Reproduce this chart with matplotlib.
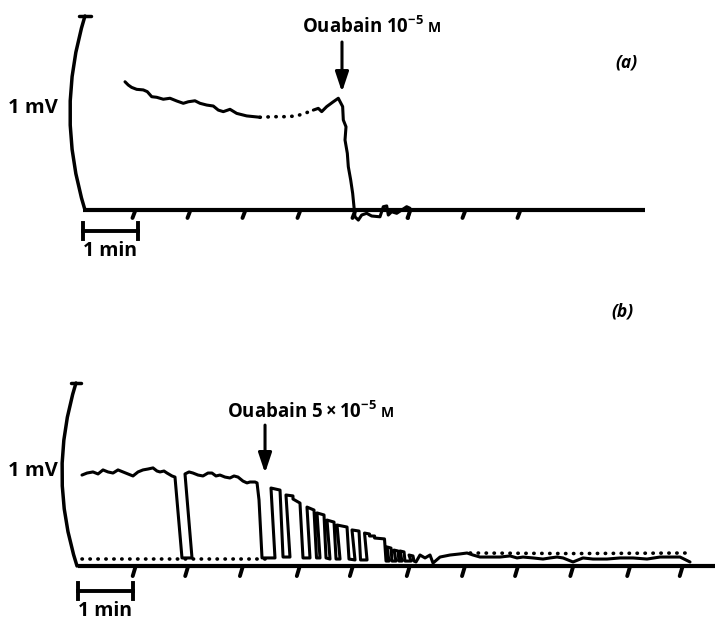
import matplotlib
matplotlib.use("Agg")
import matplotlib.pyplot as plt
from matplotlib.path import Path
from matplotlib.patches import PathPatch

plt.rcParams["font.family"] = ["Open Sans", "DejaVu Sans"]
plt.rcParams["font.weight"] = "bold"
plt.rcParams["mathtext.fontset"] = "custom"
plt.rcParams["mathtext.rm"] = "Open Sans:bold"
plt.rcParams["mathtext.it"] = "Open Sans:bold:italic"
plt.rcParams["mathtext.bf"] = "Open Sans:bold"

# ---------------- data: panel (a) (time in min, potential in mV) ----------------
a_solid1_t = [0.764, 0.824, 0.885, 0.976, 1.096, 1.169, 1.249, 1.340, 1.460, 1.582,
              1.704, 1.824, 1.915, 2.036, 2.127, 2.249, 2.369, 2.460, 2.551, 2.673,
              2.795, 2.976, 3.218]
a_solid1_v = [0.661, 0.644, 0.632, 0.622, 0.619, 0.610, 0.584, 0.581, 0.571, 0.576,
              0.562, 0.550, 0.558, 0.563, 0.550, 0.541, 0.536, 0.515, 0.507, 0.519,
              0.498, 0.485, 0.478]
a_dotted_t = [3.218, 3.460, 3.704, 3.885, 4.067, 4.188]
a_dotted_v = [0.478, 0.481, 0.481, 0.485, 0.502, 0.515]
a_solid2_t = [4.188, 4.278, 4.340, 4.431, 4.551, 4.642, 4.721, 4.733, 4.782, 4.764,
              4.806, 4.824, 4.867, 4.903, 4.927, 4.945, 5.006, 5.067, 5.158, 5.249,
              5.400, 5.460, 5.522, 5.551, 5.612, 5.704, 5.795, 5.885, 5.945, 5.915]
a_solid2_v = [0.515, 0.524, 0.507, 0.533, 0.558, 0.576, 0.533, 0.464, 0.429, 0.361,
              0.292, 0.223, 0.155, 0.086, 0.017, -0.035, -0.052, -0.026, -0.017, -0.031,
              -0.035, 0.017, 0.021, -0.026, -0.009, -0.017, 0.000, 0.017, 0.009, -0.043]
a_baseline_t = [0.0, 10.22]
a_ticks_t = [0.9, 1.9, 2.9, 3.9, 4.9, 5.9, 6.9, 7.9]
a_arrow_t = 4.709
a_arrow_v = [0.866, 0.608]

# ---------------- data: panel (b) ----------------
b_trace_t = [0.073, 0.165, 0.274, 0.366, 0.457, 0.548, 0.640, 0.731, 0.823, 0.914,
             1.005, 1.097, 1.188, 1.280, 1.371, 1.444, 1.499, 1.572, 1.627, 1.718,
             1.773, 1.901, 2.084, 1.956,
             2.029, 2.102, 2.194, 2.285, 2.376, 2.449, 2.522, 2.596, 2.687, 2.778,
             2.852, 2.925, 3.016, 3.089, 3.144, 3.236, 3.273, 3.309, 3.364, 3.601,
             3.528, 3.693, 3.748, 3.875,
             3.802, 3.930, 3.930, 4.058, 4.113, 4.241,
             4.186, 4.314, 4.360, 4.424,
             4.369, 4.497, 4.534, 4.607,
             4.552, 4.680, 4.717, 4.790,
             4.735, 4.918, 4.954, 5.064,
             5.009, 5.137, 5.165, 5.284,
             5.238, 5.329, 5.329, 5.421, 5.421, 5.603, 5.631, 5.685,
             5.649, 5.722, 5.740, 5.813,
             5.777, 5.850, 5.868, 5.923,
             5.887, 5.960, 5.978, 6.088,
             6.051, 6.124, 6.142,
             6.179, 6.252, 6.344, 6.435, 6.490, 6.618, 6.801, 6.984, 7.112, 7.221,
             7.349, 7.532, 7.715, 7.898, 8.026, 8.135, 8.318, 8.501, 8.629, 8.757,
             8.867, 9.049, 9.232, 9.415, 9.671, 9.909, 10.146, 10.402, 10.640, 10.823,
             11.005, 11.188]
b_trace_v = [0.497, 0.508, 0.514, 0.503, 0.525, 0.514, 0.508, 0.525, 0.514, 0.503,
             0.492, 0.514, 0.525, 0.530, 0.536, 0.519, 0.514, 0.519, 0.508, 0.492,
             0.486, 0.044, 0.044, 0.503,
             0.514, 0.508, 0.497, 0.492, 0.508, 0.508, 0.492, 0.497, 0.486, 0.481,
             0.492, 0.486, 0.464, 0.454, 0.459, 0.459, 0.454, 0.361, 0.044, 0.044,
             0.426, 0.415, 0.049, 0.049,
             0.388, 0.383, 0.366, 0.344, 0.044, 0.044,
             0.322, 0.306, 0.044, 0.044,
             0.290, 0.279, 0.044, 0.038,
             0.251, 0.240, 0.038, 0.038,
             0.224, 0.213, 0.038, 0.033,
             0.197, 0.191, 0.033, 0.033,
             0.180, 0.175, 0.164, 0.164, 0.153, 0.148, 0.027, 0.027,
             0.104, 0.098, 0.027, 0.027,
             0.087, 0.082, 0.027, 0.027,
             0.082, 0.077, 0.027, 0.027,
             0.060, 0.055, 0.027,
             0.022, 0.060, 0.044, 0.060, 0.016, 0.049, 0.060, 0.066, 0.071, 0.060,
             0.049, 0.049, 0.049, 0.055, 0.044, 0.049, 0.044, 0.038, 0.044, 0.049,
             0.044, 0.022, 0.044, 0.038, 0.038, 0.044, 0.044, 0.038, 0.049, 0.049,
             0.049, 0.022]
b_rest_dotted_t = [0.073, 3.51]
b_rest_dotted_v = [0.038, 0.038]
b_late_dotted_t = [7.17, 9.0, 11.19]
b_late_dotted_v = [0.071, 0.068, 0.071]
b_baseline_t = [0.0, 11.645]
b_ticks_t = [1.0, 1.96, 2.96, 4.0, 4.97, 6.01, 7.02, 7.99, 9.0, 10.04, 11.0]
b_arrow_t = 3.419
b_arrow_v = [0.770, 0.508]

LW = 2.2
K = "black"


def pen(ax, t, v, **kw):
    ax.plot(t, v, color=K, lw=LW, solid_capstyle="round", solid_joinstyle="round",
            clip_on=False, **kw)


def dots(ax, t, v):
    ax.plot(t, v, color=K, lw=2.6, linestyle=(0, (0.1, 2.1)), dash_capstyle="round",
            clip_on=False)


def frame(ax, arc_pts, base_t, ticks, tick_dx, tick_depth, cap_half, bar_v, bar_cap,
          mv_xy, min_xy):
    # curved calibration arc (1 mV)
    path = Path(arc_pts, [Path.MOVETO, Path.CURVE3, Path.CURVE3])
    ax.add_patch(PathPatch(path, fill=False, lw=2.5, color=K, capstyle="round",
                           clip_on=False))
    top = arc_pts[0]
    ax.plot([top[0] - cap_half, top[0] + cap_half], [top[1], top[1]], color=K,
            lw=2.5, solid_capstyle="round", clip_on=False)
    # baseline
    ax.plot(base_t, [0, 0], color=K, lw=3.0, solid_capstyle="butt", clip_on=False)
    # slanted minute ticks
    for tk in ticks:
        ax.plot([tk + tick_dx, tk], [0, -tick_depth], color=K, lw=2.8,
                solid_capstyle="round", clip_on=False)
    # 1 min scale bar
    ax.plot([0, 1], [bar_v, bar_v], color=K, lw=2.8, clip_on=False)
    for e in (0, 1):
        ax.plot([e, e], [bar_v - bar_cap, bar_v + bar_cap], color=K, lw=2.8,
                clip_on=False)
    ax.text(mv_xy[0], mv_xy[1], "1 mV", ha="right", va="baseline", fontsize=14.5,
            fontweight="bold")
    ax.text(min_xy[0], min_xy[1], "1 min", ha="left", va="baseline", fontsize=14,
            fontweight="bold")


fig = plt.figure(figsize=(7.15, 6.23), dpi=100)
axa = fig.add_axes([0, 1 - 300 / 623, 1, 300 / 623])
axa.set_xlim(-1.509, 11.491)
axa.set_ylim(-0.4639, 1.0825)
axb = fig.add_axes([0, 0, 1, 323 / 623])
axb.set_xlim(-1.426, 11.645)
axb.set_ylim(-0.3115, 1.4536)
for ax in (axa, axb):
    ax.axis("off")

# ---- panel (a)
frame(axa, [(0.036, 1.0), (-0.509, 0.5), (0.036, 0.0)], a_baseline_t, a_ticks_t,
      0.055, 0.041, 0.11, -0.108, 0.039, (-0.455, 0.50), (0.0, -0.235))
pen(axa, a_solid1_t, a_solid1_v)
dots(axa, a_dotted_t, a_dotted_v)
pen(axa, a_solid2_t, a_solid2_v)
axa.annotate("", xy=(a_arrow_t, a_arrow_v[1]), xytext=(a_arrow_t, a_arrow_v[0]),
             arrowprops=dict(arrowstyle="-|>,head_length=0.6,head_width=0.2",
                             lw=2.2, color=K, mutation_scale=20, shrinkA=0, shrinkB=0))
ta = axa.text(3.982, 0.943, r"Ouabain $10^{-5}$", ha="left", va="center",
              fontsize=13.4, fontweight="bold")
axa.annotate("M", xy=(1, 0), xycoords=ta, xytext=(3, 2), textcoords="offset points",
             ha="left", va="bottom", fontsize=10, fontweight="bold")
axa.text(9.873, 0.758, "(a)", ha="center", va="center", fontsize=12.5,
         fontweight="bold", fontstyle="italic")

# ---- panel (b)
frame(axb, [(-0.037, 1.0), (-0.558, 0.5), (-0.018, 0.0)], b_baseline_t, b_ticks_t,
      0.055, 0.055, 0.1, -0.137, 0.044, (-0.366, 0.49), (0.0, -0.272))
dots(axb, b_rest_dotted_t, b_rest_dotted_v)
dots(axb, b_late_dotted_t, b_late_dotted_v)
pen(axb, b_trace_t, b_trace_v)
axb.annotate("", xy=(b_arrow_t, b_arrow_v[1]), xytext=(b_arrow_t, b_arrow_v[0]),
             arrowprops=dict(arrowstyle="-|>,head_length=0.6,head_width=0.2",
                             lw=2.2, color=K, mutation_scale=20, shrinkA=0, shrinkB=0))
tb = axb.text(2.724, 0.842, r"Ouabain $5\times10^{-5}$", ha="left", va="center",
              fontsize=13.4, fontweight="bold")
axb.annotate("M", xy=(1, 0), xycoords=tb, xytext=(3, 2), textcoords="offset points",
             ha="left", va="bottom", fontsize=10, fontweight="bold")
axb.text(9.945, 1.393, "(b)", ha="center", va="center", fontsize=12.5,
         fontweight="bold", fontstyle="italic")

fig.savefig("out.png", dpi=100)
